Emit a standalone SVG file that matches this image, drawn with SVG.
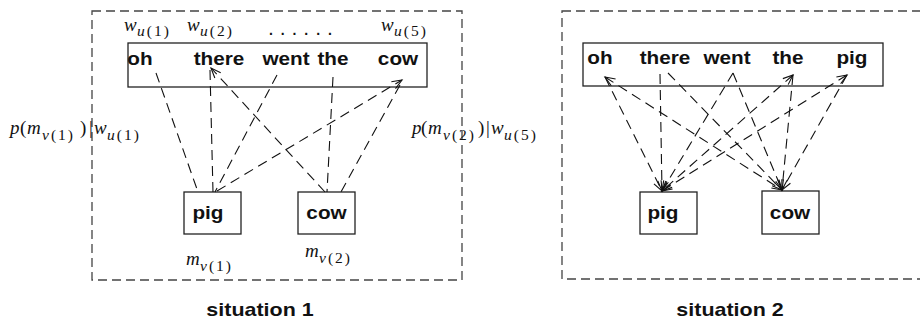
<svg xmlns="http://www.w3.org/2000/svg" width="920" height="322" viewBox="0 0 920 322">
<style>
.frame{fill:none;stroke:#444;stroke-width:1.3;stroke-dasharray:9 5}
.box{fill:#fff;stroke:#222;stroke-width:1.3}
.w{font-family:"Liberation Sans",Arial,sans-serif;font-weight:bold;font-size:18.5px;fill:#111;text-anchor:middle}
.cap{font-family:"Liberation Sans",Arial,sans-serif;font-weight:bold;font-size:19px;fill:#111;text-anchor:middle}
.m{font-family:"Liberation Serif","Times New Roman",serif;font-size:19px;fill:#111}
.i{font-style:italic}
.s{font-size:15.5px;letter-spacing:2px}
.conn line{stroke:#111;stroke-width:1.1;stroke-dasharray:10 6;fill:none}
</style>
<defs>
<marker id="ah" markerUnits="userSpaceOnUse" markerWidth="14" markerHeight="14" viewBox="-12 -7 14 14" refX="0" refY="0" orient="auto-start-reverse">
<path d="M-10,-4 L0,0 L-10,4" fill="none" stroke="#111" stroke-width="1.1"/>
</marker>
</defs>

<!-- situation 1 -->
<g id="situation1">
<rect class="frame" x="92" y="11" width="370" height="269"/>
<g id="s1-words">
<rect class="box" x="128" y="43" width="299" height="44"/>
<text class="w" transform="translate(140,65) scale(1.12,1)">oh</text>
<text class="w" transform="translate(219,65) scale(1.12,1)">there</text>
<text class="w" transform="translate(286,65) scale(1.12,1)">went</text>
<text class="w" transform="translate(333,65) scale(1.12,1)">the</text>
<text class="w" transform="translate(398,65) scale(1.12,1)">cow</text>
</g>
<g id="s1-labels-top">
<text class="m"><tspan class="i" x="124" y="31">w</tspan><tspan class="s i" x="137" y="36">u</tspan><tspan class="s">(1)</tspan></text>
<text class="m"><tspan class="i" x="187" y="31">w</tspan><tspan class="s i" x="200" y="36">u</tspan><tspan class="s">(2)</tspan></text>
<text x="269" y="35" font-family="Liberation Sans, Arial, sans-serif" font-weight="bold" font-size="14" letter-spacing="7.9" fill="#111">......</text>
<text class="m"><tspan class="i" x="381" y="31">w</tspan><tspan class="s i" x="394" y="36">u</tspan><tspan class="s">(5)</tspan></text>
</g>
<g id="s1-pig">
<rect class="box" x="184" y="192" width="57" height="42"/>
<text class="w" transform="translate(208,219) scale(1.12,1)">pig</text>
</g>
<g id="s1-cow">
<rect class="box" x="298" y="192" width="57" height="42"/>
<text class="w" transform="translate(326.5,219) scale(1.12,1)">cow</text>
</g>
<text class="m"><tspan class="i" x="186" y="265">m</tspan><tspan class="s i" x="200" y="271">v</tspan><tspan class="s">(1)</tspan></text>
<text class="m"><tspan class="i" x="305" y="257">m</tspan><tspan class="s i" x="319" y="263">v</tspan><tspan class="s">(2)</tspan></text>
<text class="m"><tspan class="i" x="10" y="134">p</tspan><tspan x="20" y="134">(</tspan><tspan class="i" x="27" y="134">m</tspan><tspan class="s i" x="42" y="140">v</tspan><tspan class="s">(1)</tspan><tspan x="80" y="134">)</tspan><tspan x="89" y="134">|</tspan><tspan class="i" x="94" y="134">w</tspan><tspan class="s i" x="107" y="140">u</tspan><tspan class="s">(1)</tspan></text>
<text class="m"><tspan class="i" x="412" y="134">p</tspan><tspan x="421" y="134">(</tspan><tspan class="i" x="428" y="134">m</tspan><tspan class="s i" x="443" y="140">v</tspan><tspan class="s">(2)</tspan><tspan x="478" y="134">)</tspan><tspan x="486" y="134">|</tspan><tspan class="i" x="491" y="134">w</tspan><tspan class="s i" x="504" y="140">u</tspan><tspan class="s">(5)</tspan></text>
<text class="cap" transform="translate(260,316) scale(1.13,1)">situation 1</text>
</g>

<g id="connectors1" class="conn">
<line x1="156" y1="73" x2="198" y2="192"/>
<line x1="210" y1="70" x2="213" y2="192"/>
<line x1="325" y1="192" x2="211" y2="68" marker-end="url(#ah)"/>
<line x1="277" y1="75" x2="215" y2="192"/>
<line x1="333" y1="77" x2="327" y2="192"/>
<line x1="217" y1="191" x2="402" y2="80" marker-end="url(#ah)"/>
<line x1="400" y1="85" x2="341" y2="192"/>
</g>

<!-- situation 2 -->
<g id="situation2">
<rect class="frame" x="562" y="11" width="370" height="268"/>
<g id="s2-words">
<rect class="box" x="583" y="43" width="300" height="43"/>
<text class="w" transform="translate(600,64) scale(1.12,1)">oh</text>
<text class="w" transform="translate(665,64) scale(1.12,1)">there</text>
<text class="w" transform="translate(727,64) scale(1.12,1)">went</text>
<text class="w" transform="translate(788,64) scale(1.12,1)">the</text>
<text class="w" transform="translate(852,64) scale(1.12,1)">pig</text>
</g>
<g id="s2-pig">
<rect class="box" x="640" y="192" width="57" height="42"/>
<text class="w" transform="translate(663,219) scale(1.12,1)">pig</text>
</g>
<g id="s2-cow">
<rect class="box" x="762" y="191" width="57" height="43"/>
<text class="w" transform="translate(790,219) scale(1.12,1)">cow</text>
</g>
<text class="cap" transform="translate(730,316) scale(1.13,1)">situation 2</text>
</g>

<g id="connectors2" class="conn">
<line x1="605" y1="77" x2="662" y2="191" marker-end="url(#ah)"/>
<line x1="605" y1="77" x2="782" y2="190" marker-start="url(#ah)" marker-end="url(#ah)"/>
<line x1="660" y1="74" x2="662" y2="191" marker-end="url(#ah)"/>
<line x1="668" y1="73" x2="782" y2="190" marker-end="url(#ah)"/>
<line x1="733" y1="73" x2="662" y2="191" marker-end="url(#ah)"/>
<line x1="733" y1="73" x2="782" y2="190" marker-end="url(#ah)"/>
<line x1="793" y1="75" x2="662" y2="191" marker-start="url(#ah)" marker-end="url(#ah)"/>
<line x1="793" y1="75" x2="782" y2="190" marker-end="url(#ah)"/>
<line x1="847" y1="75" x2="662" y2="191" marker-start="url(#ah)" marker-end="url(#ah)"/>
<line x1="847" y1="75" x2="782" y2="190" marker-end="url(#ah)"/>
</g>
</svg>
